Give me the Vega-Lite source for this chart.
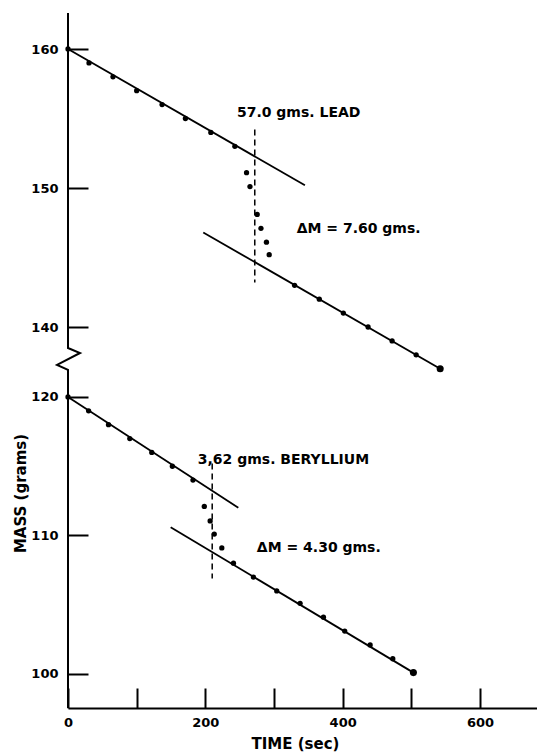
{
  "$schema": "https://vega.github.io/schema/vega-lite/v6.json",
  "width": 469,
  "height": 695,
  "autosize": {"type": "none"},
  "padding": {"left": 68, "top": 13, "right": 0, "bottom": 48},
  "background": "white",
  "config": {"view": {"stroke": null}, "font": "DejaVu Sans"},
  "datasets": {
    "points": [
      {"series": "lead", "t": 0, "m": 160}, {"series": "lead", "t": 30.6, "m": 159}, {"series": "lead", "t": 65.5, "m": 158},
      {"series": "lead", "t": 100, "m": 157}, {"series": "lead", "t": 137, "m": 156}, {"series": "lead", "t": 171, "m": 155},
      {"series": "lead", "t": 208, "m": 154}, {"series": "lead", "t": 243, "m": 153},
      {"series": "lead", "t": 260, "m": 151.1}, {"series": "lead", "t": 265, "m": 150.1}, {"series": "lead", "t": 275.5, "m": 148.1},
      {"series": "lead", "t": 281, "m": 147.1}, {"series": "lead", "t": 289, "m": 146.1}, {"series": "lead", "t": 293, "m": 145.2},
      {"series": "lead", "t": 330, "m": 143}, {"series": "lead", "t": 366, "m": 142}, {"series": "lead", "t": 401, "m": 141},
      {"series": "lead", "t": 437, "m": 140}, {"series": "lead", "t": 472, "m": 139}, {"series": "lead", "t": 507, "m": 138},
      {"series": "lead", "t": 542, "m": 137},
      {"series": "be", "t": 0, "m": 120}, {"series": "be", "t": 30, "m": 119}, {"series": "be", "t": 59, "m": 118},
      {"series": "be", "t": 90, "m": 117}, {"series": "be", "t": 122, "m": 116}, {"series": "be", "t": 152, "m": 115},
      {"series": "be", "t": 182, "m": 114},
      {"series": "be", "t": 198.5, "m": 112.1}, {"series": "be", "t": 207, "m": 111.05}, {"series": "be", "t": 213, "m": 110.1},
      {"series": "be", "t": 224, "m": 109.1},
      {"series": "be", "t": 241, "m": 108.0}, {"series": "be", "t": 270, "m": 107.0}, {"series": "be", "t": 304, "m": 106.0},
      {"series": "be", "t": 338, "m": 105.1}, {"series": "be", "t": 372, "m": 104.1}, {"series": "be", "t": 403, "m": 103.1},
      {"series": "be", "t": 440, "m": 102.1}, {"series": "be", "t": 473, "m": 101.1}, {"series": "be", "t": 503, "m": 100.1}
    ],
    "fits": [
      {"seg": "lead-before", "t": 0, "m": 160}, {"seg": "lead-before", "t": 345, "m": 150.2},
      {"seg": "lead-after", "t": 197, "m": 146.8}, {"seg": "lead-after", "t": 542, "m": 137.0},
      {"seg": "be-before", "t": 0, "m": 120}, {"seg": "be-before", "t": 248, "m": 112.0},
      {"seg": "be-after", "t": 149.5, "m": 110.6}, {"seg": "be-after", "t": 503, "m": 100.1}
    ],
    "drops": [
      {"seg": "lead", "t": 272, "m": 154.2}, {"seg": "lead", "t": 272, "m": 143.2},
      {"seg": "be", "t": 210, "m": 115.2}, {"seg": "be", "t": 210, "m": 106.9}
    ],
    "frame": [
      {"k": 1, "t": 0, "m": 97.545}, {"k": 2, "t": 0, "m": 136.91}, {"k": 3, "t": -16, "m": 137.27},
      {"k": 4, "t": 17.5, "m": 138.13}, {"k": 5, "t": 0, "m": 138.49}, {"k": 6, "t": 0, "m": 162.59}
    ],
    "notes": [
      {"t": 246, "m": 155.4, "label": "57.0 gms. LEAD"},
      {"t": 333, "m": 147.05, "label": "ΔM = 7.60 gms."},
      {"t": 189, "m": 115.45, "label": "3,62 gms. BERYLLIUM"},
      {"t": 275, "m": 109.1, "label": "ΔM = 4.30 gms."}
    ]
  },
  "layer": [
    {
      "data": {"name": "fits"},
      "mark": {"type": "line", "color": "black", "strokeWidth": 1.8},
      "encoding": {
        "x": {
          "field": "t", "type": "quantitative",
          "scale": {"domain": [0, 683], "nice": false, "zero": false},
          "axis": {
            "title": "TIME (sec)", "values": [0, 100, 200, 300, 400, 500, 600],
            "labelExpr": "datum.value % 200 == 0 ? datum.label : ''",
            "grid": false, "tickSize": -20, "tickWidth": 2, "tickColor": "black",
            "domainColor": "black", "domainWidth": 2,
            "labelFont": "DejaVu Sans", "labelFontWeight": "bold", "labelFontSize": 13, "labelColor": "black",
            "labelPadding": 28, "labelFlush": false,
            "titleFont": "DejaVu Sans", "titleFontWeight": "bold", "titleFontSize": 15, "titleColor": "black",
            "titlePadding": 7, "titleX": 227
          }
        },
        "y": {
          "field": "m", "type": "quantitative",
          "scale": {"domain": [97.545, 121, 136, 162.59], "range": [695, 370.15, 369.6, 0], "nice": false, "zero": false},
          "axis": {
            "title": "MASS (grams)", "values": [100, 110, 120, 140, 150, 160],
            "grid": false, "domain": false, "tickSize": -20, "tickWidth": 2, "tickColor": "black",
            "labelFont": "DejaVu Sans", "labelFontWeight": "bold", "labelFontSize": 13, "labelColor": "black",
            "labelPadding": 30,
            "titleFont": "DejaVu Sans", "titleFontWeight": "bold", "titleFontSize": 15, "titleColor": "black",
            "titleX": -40, "titleY": 480
          }
        },
        "detail": {"field": "seg"}
      }
    },
    {
      "data": {"name": "drops"},
      "mark": {"type": "line", "color": "black", "strokeWidth": 1.5, "strokeDash": [6, 4]},
      "encoding": {
        "x": {"field": "t", "type": "quantitative"},
        "y": {"field": "m", "type": "quantitative"},
        "detail": {"field": "seg"}
      }
    },
    {
      "data": {"name": "points"},
      "mark": {"type": "circle", "color": "black", "opacity": 1, "size": 28},
      "encoding": {
        "x": {"field": "t", "type": "quantitative"},
        "y": {"field": "m", "type": "quantitative"}
      }
    },
    {
      "data": {"name": "points"},
      "transform": [
        {"joinaggregate": [{"op": "max", "field": "t", "as": "tlast"}], "groupby": ["series"]},
        {"filter": "datum.t == datum.tlast"}
      ],
      "mark": {"type": "circle", "color": "black", "opacity": 1, "size": 50},
      "encoding": {
        "x": {"field": "t", "type": "quantitative"},
        "y": {"field": "m", "type": "quantitative"}
      }
    },
    {
      "data": {"name": "frame"},
      "mark": {"type": "line", "color": "black", "strokeWidth": 2},
      "encoding": {
        "x": {"field": "t", "type": "quantitative"},
        "y": {"field": "m", "type": "quantitative"},
        "order": {"field": "k"}
      }
    },
    {
      "mark": {"type": "rule", "color": "black", "strokeWidth": 2},
      "encoding": {"y": {"datum": 162.59}}
    },
    {
      "data": {"name": "notes"},
      "mark": {"type": "text", "align": "left", "baseline": "middle", "font": "DejaVu Sans", "fontWeight": "bold", "fontSize": 14, "color": "black"},
      "encoding": {
        "x": {"field": "t", "type": "quantitative"},
        "y": {"field": "m", "type": "quantitative"},
        "text": {"field": "label"}
      }
    }
  ]
}
